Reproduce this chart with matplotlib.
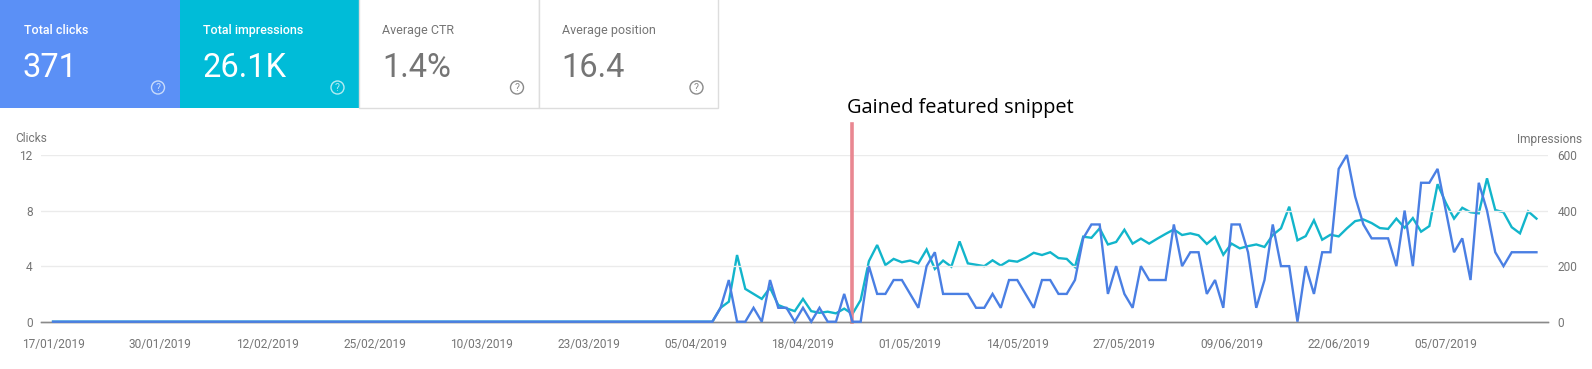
"""
plot.py - Search console performance cards and clicks/impressions chart.
"""

import matplotlib
import matplotlib.pyplot as plt
import pandas as pd
from matplotlib.patches import Circle, Rectangle

matplotlib.use("Agg")

plt.rcParams["font.family"] = ["Roboto", "DejaVu Sans"]

card_titles = ["Total clicks", "Total impressions", "Average CTR", "Average position"]
card_values = ["371", "26.1K", "1.4%", "16.4"]

tick_labels = [
    "17/01/2019", "30/01/2019", "12/02/2019", "25/02/2019", "10/03/2019",
    "23/03/2019", "05/04/2019", "18/04/2019", "01/05/2019", "14/05/2019",
    "27/05/2019", "09/06/2019", "22/06/2019", "05/07/2019",
]
clicks_ticks = [0, 4, 8, 12]
impressions_ticks = [0, 200, 400, 600]

snippet_date = "2019-04-24"
snippet_label = "Gained featured snippet"

# one value per day from 17/01/2019
clicks = [
    0, 0, 0, 0, 0, 0, 0, 0, 0, 0, 0, 0, 0, 0, 0, 0, 0, 0, 0, 0,
    0, 0, 0, 0, 0, 0, 0, 0, 0, 0, 0, 0, 0, 0, 0, 0, 0, 0, 0, 0,
    0, 0, 0, 0, 0, 0, 0, 0, 0, 0, 0, 0, 0, 0, 0, 0, 0, 0, 0, 0,
    0, 0, 0, 0, 0, 0, 0, 0, 0, 0, 0, 0, 0, 0, 0, 0, 0, 0, 0, 0,
    0, 1, 3, 0, 0, 1, 0, 3, 1, 1, 0, 1, 0, 1, 0, 0, 2, 0, 0, 4,
    2, 2, 3, 3, 2, 1, 4, 5, 2, 2, 2, 2, 1, 1, 2, 1, 3, 3, 2, 1,
    3, 3, 2, 2, 3, 6, 7, 7, 2, 4, 2, 1, 4, 3, 3, 3, 7, 4, 5, 5,
    2, 3, 1, 7, 7, 5, 1, 3, 7, 4, 4, 0, 4, 2, 5, 5, 11, 12, 9, 7,
    6, 6, 6, 4, 8, 4, 10, 10, 11, 8, 5, 6, 3, 10, 8, 5, 4, 5, 5, 5,
    5,
]
impressions = [
    0, 0, 0, 0, 0, 0, 0, 0, 0, 0, 0, 0, 0, 0, 0, 0, 0, 0, 0, 0,
    0, 0, 0, 0, 0, 0, 0, 0, 0, 0, 0, 0, 0, 0, 0, 0, 0, 0, 0, 0,
    0, 0, 0, 0, 0, 0, 0, 0, 0, 0, 0, 0, 0, 0, 0, 0, 0, 0, 0, 0,
    0, 0, 0, 0, 0, 0, 0, 0, 0, 0, 0, 0, 0, 0, 0, 0, 0, 0, 0, 0,
    0, 50, 72, 240, 118, 100, 82, 122, 60, 48, 38, 82, 38, 32, 36, 30, 47, 28, 78, 218,
    276, 204, 226, 214, 220, 210, 260, 190, 220, 198, 289, 210, 205, 200, 221, 202, 220, 216, 230, 248,
    240, 250, 229, 226, 197, 306, 302, 336, 278, 287, 331, 281, 299, 281, 299, 316, 332, 312, 318, 311,
    280, 305, 241, 281, 264, 272, 278, 269, 312, 336, 414, 293, 308, 365, 295, 313, 307, 336, 362, 368,
    355, 337, 334, 371, 338, 373, 324, 344, 495, 428, 371, 410, 394, 390, 516, 402, 394, 340, 318, 397,
    371,
]

days = pd.date_range("2019-01-17", periods=len(clicks), freq="D")
tick_dates = pd.to_datetime(tick_labels, format="%d/%m/%Y")

W, H = 1592, 369
GREY = "#757575"
BLUE = "#4a7fe3"
CYAN = "#12b5cb"

fig = plt.figure(figsize=(W / 100, H / 100), dpi=100)

# page layer in pixel coordinates for the cards
page = fig.add_axes([0, 0, 1, 1])
page.set_xlim(0, W)
page.set_ylim(H, 0)
page.axis("off")

card_w = 179.5
card_h = 107.5
fills = ["#5b90f6", "#00bcd8", "white", "white"]
for i, (title, value) in enumerate(zip(card_titles, card_values)):
    left = i * card_w
    page.add_patch(Rectangle((left, -2), card_w, card_h + 2, fc=fills[i],
                             ec="#dddddd" if i > 1 else "none", lw=1))
    fg = "white" if i < 2 else GREY
    page.text(left + 23.5, 30.5, title, color=fg, fontsize=9,
              fontweight="medium" if i < 2 else "normal", va="center")
    page.text(left + 23, 68, value, color=fg, fontsize=23.5, va="center")
    icon = "#c8dcfb" if i == 0 else "#b5ebf2" if i == 1 else "#8a8a8a"
    page.add_patch(Circle((left + 158, 87.5), 6.5, fc="none", ec=icon, lw=1))
    page.text(left + 158, 87.8, "?", color=icon, fontsize=7.5, ha="center", va="center")

# chart area
ax = fig.add_axes([41 / W, 1 - 321.7 / H, (1548 - 41) / W, (321.7 - 155) / H])
ax.patch.set_alpha(0)
ax2 = ax.twinx()
ax.set_zorder(3)
ax2.set_zorder(2)
ax2.patch.set_alpha(0)

ax2.plot(days, impressions, color=CYAN, lw=1.7, solid_joinstyle="miter", clip_on=False)
ax.plot(days, clicks, color=BLUE, lw=1.7, solid_joinstyle="miter", clip_on=False, zorder=3)

x_left = pd.Timestamp("2019-01-17") - pd.Timedelta(days=1.46)
x_right = pd.Timestamp("2019-01-17") + pd.Timedelta(days=181.4)
ax.set_xlim(x_left, x_right)
ax.set_ylim(0, 12)
ax2.set_ylim(0, 600)

ax.set_yticks(clicks_ticks)
ax2.set_yticks(impressions_ticks)
ax.set_xticks(tick_dates)
ax.set_xticklabels(tick_labels)
ax.grid(True, axis="y", color="#ebebeb", lw=1)
ax.set_axisbelow(True)
ax.tick_params(axis="x", length=0, pad=11.8, labelsize=8.6, labelcolor=GREY)
ax.tick_params(axis="y", length=0, pad=6, labelsize=8.6, labelcolor=GREY)
ax2.tick_params(axis="y", length=0, pad=7, labelsize=8.6, labelcolor=GREY)

for a in (ax, ax2):
    for side in ("top", "left", "right"):
        a.spines[side].set_visible(False)
    a.spines["bottom"].set_color("#8a8a8a")
    a.spines["bottom"].set_linewidth(1)

# marker for the snippet date, running above the axes
snippet_x = pd.Timestamp(snippet_date)
ax.plot([snippet_x, snippet_x], [0, 14.2], color="#e98791", lw=2.6, clip_on=False, zorder=2)
ax.annotate(snippet_label, xy=(snippet_x, 14.2), xytext=(-4, 11.5), textcoords="offset points",
            ha="left", va="center", fontsize=14.4, color="black", family="Open Sans",
            annotation_clip=False)

page.text(15, 139, "Clicks", color=GREY, fontsize=8.6, va="center")
page.text(1582, 139, "Impressions", color=GREY, fontsize=8.6, va="center", ha="right")

fig.savefig("out.png", dpi=100)
